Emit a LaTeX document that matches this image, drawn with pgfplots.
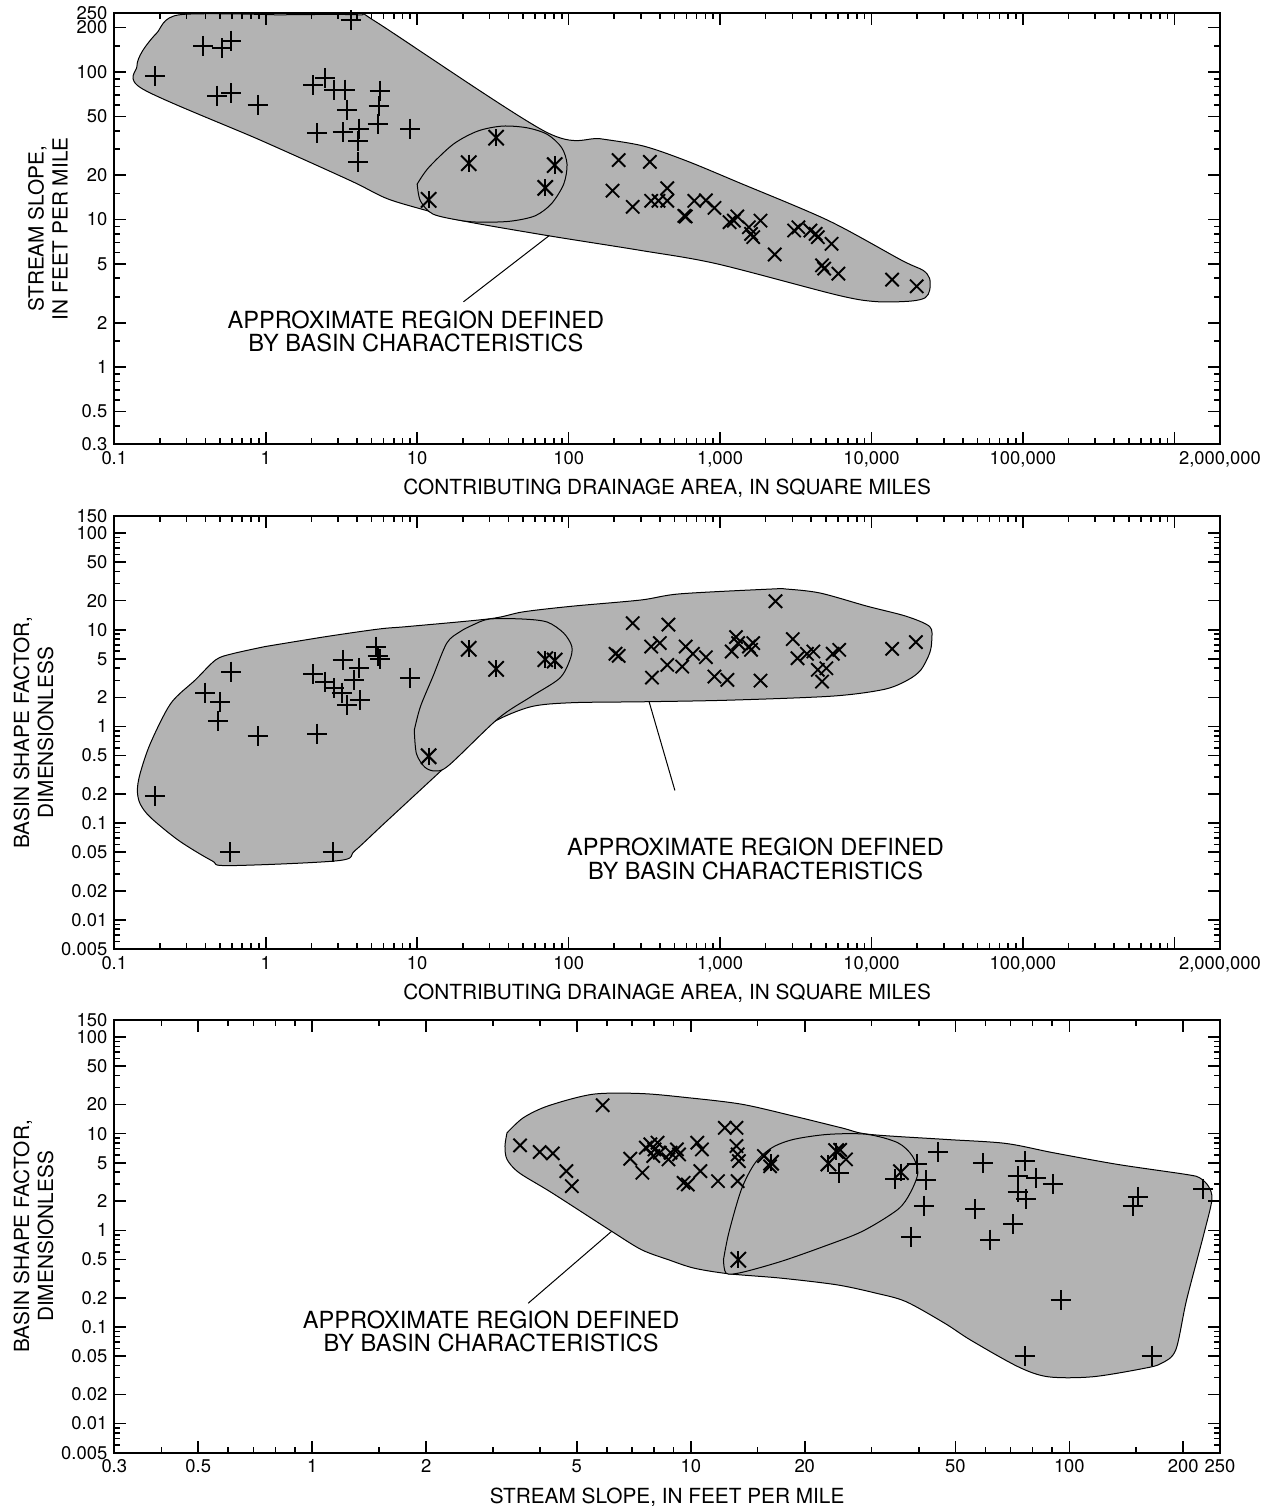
\documentclass[border=0pt]{standalone}
\usepackage{fontspec}
\setmainfont{TeX Gyre Heros}
\usepackage{pgfplots}
\pgfplotsset{compat=1.18}

\definecolor{regiongray}{RGB}{179,179,179}

\tikzset{
  notetext/.style={align=center, font=\fontsize{11.8}{11.7}\selectfont},
}
\pgfplotsset{
  regionfill/.style={fill=regiongray, draw=black, line width=0.5pt, smooth, tension=0.5},
  plusmark/.style={only marks, mark=+, mark size=5pt, mark options={line width=1pt, black}},
  crossmark/.style={only marks, mark=x, mark size=4.7pt, mark options={line width=0.95pt, black}},
  % the asterisk is drawn as an x with a vertical bar through it
  starx/.style={only marks, mark=x, mark size=5.4pt, mark options={line width=1pt, black}},
  starbar/.style={only marks, mark=|, mark size=4.3pt, mark options={line width=1pt, black}},
}

\begin{document}
\begin{tikzpicture}
\path[use as bounding box] (0,0) rectangle (637.5pt,755.5pt);

% ---------- top: stream slope vs drainage area
\begin{axis}[
  xmode=log, ymode=log, scale only axis, width=552.85pt, height=215.5pt,
  at={(57.15pt,533.35pt)}, anchor=south west,
  axis on top,
  axis line style={line width=0.9pt},
  tick style={black, line width=0.8pt},
  major tick length=6pt, minor tick length=3pt, tick align=inside,
  ticklabel style={font=\fontsize{9.2}{10}\selectfont},
  xmin=0.1, xmax=2000000,
  xtick={0.1,1,10,100,1000,10000,100000,1000000,2000000},
  xticklabels={0.1,1,10,100,{1,000},{10,000},{100,000},,{2,000,000}},
  minor xtick={0.2,0.3,0.4,0.5,0.6,0.7,0.8,0.9,2,3,4,5,6,7,8,9,
    20,30,40,50,60,70,80,90,200,300,400,500,600,700,800,900,
    2000,3000,4000,5000,6000,7000,8000,9000,
    20000,30000,40000,50000,60000,70000,80000,90000,
    200000,300000,400000,500000,600000,700000,800000,900000},
  ymin=0.3, ymax=250,
  ytick={0.3,0.5,1,2,5,10,20,50,100,200,250},
  yticklabels={0.3,0.5,1,2,5,10,20,50,100,200,250},
  minor ytick={0.4,0.6,0.7,0.8,0.9,1.5,3,4,6,7,8,9,15,30,40,60,70,80,90,150},
  xlabel={CONTRIBUTING DRAINAGE AREA, IN SQUARE MILES},
  xlabel style={font=\fontsize{10.4}{12}\selectfont, at={(axis description cs:0.5,-0.103)}, anchor=center},
  ylabel={STREAM SLOPE,\\IN FEET PER MILE},
  ylabel style={font=\fontsize{10.4}{12}\selectfont, align=center, at={(axis description cs:-0.060,0.5)}, anchor=center},
]
\addplot[regionfill] coordinates {
  (1.2,244) (4.13,244) (5.3,220) (70,39.5) (162,35.3) (312,31.5) (600,25.0)
  (1315,17.9) (5200,9.84) (15800,5.3) (21900,4.53) (24200,3.98) (24200,3.32)
  (22600,2.95) (18000,2.80) (10700,2.78) (5930,3.08) (948,5.02) (299,6.18)
  (72,7.8) (19.6,9.84) (12.7,11.2) (6.4,13.8) (3.65,18.3) (0.93,34.4)
  (0.153,77) (0.141,109) (0.153,138) (0.19,183) (0.267,244) (1.2,244)
} -- cycle;
\addplot[regionfill] coordinates {
  (10,17.4) (10.5,13.4) (12.7,10.9) (19.6,9.84) (26.7,9.6) (41.3,9.75)
  (60,10.6) (77,12.8) (92.8,17.4) (97.6,23.7) (90,30.7) (72.3,37.8)
  (53,41.9) (36.5,43) (25.1,39.8) (17.3,32.4) (11.9,22.5) (10,17.4)
} -- cycle;
\addplot[black, line width=0.5pt] coordinates {(74.6,7.8) (20.2,2.77)};
\node[notetext] at (axis cs:9.8,1.74) {APPROXIMATE REGION DEFINED\\BY BASIN CHARACTERISTICS};

\addplot[plusmark] coordinates {
  (0.187,93.5) (0.388,150.6) (0.514,145) (0.593,163) (0.477,69.2) (0.593,72)
  (0.883,60) (2.06,81.3) (2.48,91) (2.84,76) (3.32,76) (5.64,74.8) (5.57,58.7)
  (3.43,55.7) (5.47,44.2) (4.13,41.3) (2.19,38.4) (3.22,39.2) (4.08,34.1)
  (4.08,24.6) (9.0,41.3) (3.65,225)
};
\addplot[starx] coordinates {
  (11.9,13.6) (21.9,24.1) (33.2,35.9) (70.1,16.4) (80.9,23.4)
};
\addplot[starbar] coordinates {
  (11.9,13.6) (21.9,24.1) (33.2,35.9) (70.1,16.4) (80.9,23.4)
};
\addplot[crossmark] coordinates {
  (214,25.3) (195,15.7) (265,12.2) (344,24.6) (448,16.3) (351,13.4) (392,13.4)
  (448,13.4) (581,10.6) (593,10.5) (676,13.4) (806,13.5) (918,12.0) (1155,9.6)
  (1233,9.84) (1300,10.5) (1549,8.87) (1601,8.0) (1655,7.6) (1849,9.84)
  (2295,5.8) (3083,8.43) (3290,8.87) (3953,8.43) (4273,8.0) (4418,7.6)
  (5445,6.85) (4714,4.9) (4869,4.65) (6046,4.3) (13680,3.92) (19870,3.53)
};
\end{axis}

% ---------- middle: basin shape factor vs drainage area
\begin{axis}[
  xmode=log, ymode=log, scale only axis, width=552.85pt, height=216.5pt,
  at={(57.15pt,281pt)}, anchor=south west,
  axis on top,
  axis line style={line width=0.9pt},
  tick style={black, line width=0.8pt},
  major tick length=6pt, minor tick length=3pt, tick align=inside,
  ticklabel style={font=\fontsize{9.2}{10}\selectfont},
  xmin=0.1, xmax=2000000,
  xtick={0.1,1,10,100,1000,10000,100000,1000000,2000000},
  xticklabels={0.1,1,10,100,{1,000},{10,000},{100,000},,{2,000,000}},
  minor xtick={0.2,0.3,0.4,0.5,0.6,0.7,0.8,0.9,2,3,4,5,6,7,8,9,
    20,30,40,50,60,70,80,90,200,300,400,500,600,700,800,900,
    2000,3000,4000,5000,6000,7000,8000,9000,
    20000,30000,40000,50000,60000,70000,80000,90000,
    200000,300000,400000,500000,600000,700000,800000,900000},
  ymin=0.005, ymax=150,
  ytick={0.005,0.01,0.02,0.05,0.1,0.2,0.5,1,2,5,10,20,50,100,150},
  yticklabels={0.005,0.01,0.02,0.05,0.1,0.2,0.5,1,2,5,10,20,50,100,150},
  minor ytick={0.006,0.007,0.008,0.009,0.03,0.04,0.06,0.07,0.08,0.09,
    0.3,0.4,0.6,0.7,0.8,0.9,3,4,6,7,8,9,30,40,60,70,80,90},
  xlabel={CONTRIBUTING DRAINAGE AREA, IN SQUARE MILES},
  xlabel style={font=\fontsize{10.4}{12}\selectfont, at={(axis description cs:0.5,-0.103)}, anchor=center},
  ylabel={BASIN SHAPE FACTOR,\\DIMENSIONLESS},
  ylabel style={font=\fontsize{10.4}{12}\selectfont, align=center, at={(axis description cs:-0.073,0.5)}, anchor=center},
]
\addplot[regionfill] coordinates {
  (0.99,6.7) (2.51,8.5) (5.66,10.2) (8.7,10.8) (30.3,13.0) (50,15.3) (105,17.5)
  (300,20.3) (543,23.5) (2222,26.4) (2700,26.4) (4560,24.0) (9370,17.5)
  (16900,13.8) (24200,10.8) (25000,7.88) (24200,5.73) (21200,3.85) (17400,3.03)
  (12160,2.42) (5545,2.06) (1155,1.87) (312,1.8) (105,1.76) (56.4,1.6)
  (32.2,1.12) (23.6,0.72) (15.3,0.381) (6.0,0.098) (3.88,0.052) (3.03,0.041)
  (0.564,0.0364) (0.44,0.041) (0.267,0.066) (0.173,0.115) (0.148,0.159)
  (0.142,0.218) (0.148,0.325) (0.173,0.667) (0.236,1.73) (0.343,3.03)
  (0.468,4.89) (0.6,5.64) (0.99,6.7)
} -- cycle;
\addplot[regionfill] coordinates {
  (9.57,0.916) (9.88,0.525) (11.2,0.381) (13.1,0.347) (16.2,0.397) (34.3,1.21)
  (56.4,2.03) (87.2,3.15) (102,4.89) (105,6.7) (92.8,9.23) (72.3,12.0)
  (50,12.9) (30,12.9) (23.3,11.2) (19.2,9.55) (15.7,7.3) (12.7,3.28)
  (10.5,1.6) (9.57,0.916)
} -- cycle;
\addplot[black, line width=0.5pt] coordinates {(340,1.8) (503,0.218)};
\node[notetext] at (axis cs:1714,0.0427) {APPROXIMATE REGION DEFINED\\BY BASIN CHARACTERISTICS};

\addplot[plusmark] coordinates {
  (0.187,0.189) (0.40,2.24) (0.498,1.80) (0.483,1.14) (0.593,3.69) (0.58,0.050)
  (0.883,0.79) (2.06,3.47) (2.19,0.845) (2.48,2.91) (2.76,0.050) (2.81,2.48)
  (3.22,4.89) (3.18,2.24) (3.43,1.66) (3.83,3.03) (4.13,4.0) (4.18,1.87)
  (5.37,6.7) (5.64,4.96) (5.5,5.3) (9.0,3.2)
};
\addplot[starx] coordinates {
  (11.9,0.492) (21.9,6.35) (33.2,3.94) (70.1,4.96) (80.9,4.8)
};
\addplot[starbar] coordinates {
  (11.9,0.492) (21.9,6.35) (33.2,3.94) (70.1,4.96) (80.9,4.8)
};
\addplot[crossmark] coordinates {
  (204,5.64) (214,5.37) (265,11.7) (456,11.3) (351,6.7) (400,7.28) (355,3.2)
  (448,4.33) (562,4.16) (593,6.7) (662,5.64) (806,5.2) (918,3.28) (1117,3.03)
  (1193,5.96) (1274,8.4) (1316,7.28) (1549,6.7) (1601,6.2) (1655,7.28)
  (1849,2.98) (2323,19.7) (3020,8.0) (3246,5.08) (3746,5.64) (4131,5.96)
  (4418,3.85) (4714,2.91) (5033,4.0) (5545,5.64) (6120,6.2) (13680,6.35)
  (19630,7.45)
};
\end{axis}

% ---------- bottom: basin shape factor vs stream slope
\begin{axis}[
  xmode=log, ymode=log, scale only axis, width=552.85pt, height=216.35pt,
  at={(57.15pt,29.15pt)}, anchor=south west,
  axis on top,
  axis line style={line width=0.9pt},
  tick style={black, line width=0.8pt},
  major tick length=6pt, minor tick length=3pt, tick align=inside,
  ticklabel style={font=\fontsize{9.2}{10}\selectfont},
  xmin=0.3, xmax=250,
  xtick={0.3,0.5,1,2,5,10,20,50,100,200,250},
  xticklabels={0.3,0.5,1,2,5,10,20,50,100,200,250},
  minor xtick={0.4,0.6,0.7,0.8,0.9,1.5,3,4,6,7,8,9,15,30,40,60,70,80,90,150},
  ymin=0.005, ymax=150,
  ytick={0.005,0.01,0.02,0.05,0.1,0.2,0.5,1,2,5,10,20,50,100,150},
  yticklabels={0.005,0.01,0.02,0.05,0.1,0.2,0.5,1,2,5,10,20,50,100,150},
  minor ytick={0.006,0.007,0.008,0.009,0.03,0.04,0.06,0.07,0.08,0.09,
    0.3,0.4,0.6,0.7,0.8,0.9,3,4,6,7,8,9,30,40,60,70,80,90},
  xlabel={STREAM SLOPE, IN FEET PER MILE},
  xlabel style={font=\fontsize{10.4}{12}\selectfont, at={(axis description cs:0.5,-0.103)}, anchor=center},
  ylabel={BASIN SHAPE FACTOR,\\DIMENSIONLESS},
  ylabel style={font=\fontsize{10.4}{12}\selectfont, align=center, at={(axis description cs:-0.073,0.5)}, anchor=center},
]
\addplot[regionfill] coordinates {
  (3.27,10.2) (3.61,14.6) (4.2,19.4) (5.52,25.6) (7.41,26.0) (9.69,23.7)
  (13.6,20.2) (18.7,15.2) (25,11.5) (29.6,9.84) (46.9,8.73) (67.7,7.94)
  (90.5,6.36) (134,4.81) (204,3.78) (221,3.49) (233,2.86) (238,2.08)
  (227,0.94) (204,0.19) (191,0.0577) (175,0.042) (157,0.0372) (115,0.0305)
  (88,0.0305) (73.3,0.0387) (54.9,0.073) (46.9,0.109) (37,0.183) (30.8,0.224)
  (24.3,0.273) (17.3,0.32) (12.6,0.355) (10.2,0.406) (8.73,0.496) (7.41,0.63)
  (6.18,0.977) (4.3,2.44) (3.52,3.94) (3.27,5.42) (3.23,7.45) (3.27,10.2)
} -- cycle;
\addplot[regionfill] coordinates {
  (12.2,0.496) (12.6,0.94) (13.6,2.64) (14.8,5.0) (16.4,7.17) (18.7,8.73)
  (23.1,9.84) (29.2,9.84) (35.2,8.07) (38.5,5.87) (39.8,3.94) (38,2.44)
  (35.2,1.64) (28.4,0.977) (22.5,0.683) (17.3,0.476) (13.6,0.366)
  (12.4,0.36) (12.2,0.496)
} -- cycle;
\addplot[black, line width=0.5pt] coordinates {(6.18,0.977) (3.72,0.176)};
\node[notetext] at (axis cs:2.97,0.09) {APPROXIMATE REGION DEFINED\\BY BASIN CHARACTERISTICS};

\addplot[crossmark] coordinates {
  (3.54,7.57) (3.99,6.46) (4.32,6.25) (4.69,4.1) (4.85,2.86) (5.85,19.7)
  (6.92,5.5) (7.45,3.94) (7.61,7.17) (7.82,7.75) (8.02,6.87) (8.17,8.07)
  (8.28,6.36) (7.96,5.87) (8.73,5.42) (8.84,6.36) (9.19,6.87) (9.31,6.1)
  (9.57,3.1) (9.82,2.98) (10.4,8.07) (10.7,6.87) (10.6,4.1) (11.8,3.23)
  (12.3,11.5) (13.2,11.5) (13.2,7.45) (13.3,6.1) (13.4,5.2) (13.3,3.23)
  (15.6,5.87) (16.2,4.6) (25.7,5.42) (24.8,6.8)
};
\addplot[starx] coordinates {
  (13.35,0.496) (16.3,5.0) (24.2,6.6) (23.1,4.92) (35.9,4.0)
};
\addplot[starbar] coordinates {
  (13.35,0.496) (16.3,5.0) (24.2,6.6) (23.1,4.92) (35.9,4.0)
};
\addplot[plusmark] coordinates {
  (24.7,3.94) (34.7,3.36) (39.5,4.89) (41.7,3.28) (41.3,1.8) (38.2,0.853)
  (45.1,6.46) (56.4,1.66) (59.1,4.92) (61.8,0.80) (71.1,1.15) (73.0,3.64)
  (73.0,2.48) (76.2,5.2) (76.8,2.11) (81.8,3.49) (90.5,2.98) (76.2,0.05)
  (94.8,0.19) (147,1.77) (152,2.22) (165,0.05) (226,2.69)
};
\end{axis}
\end{tikzpicture}
\end{document}
